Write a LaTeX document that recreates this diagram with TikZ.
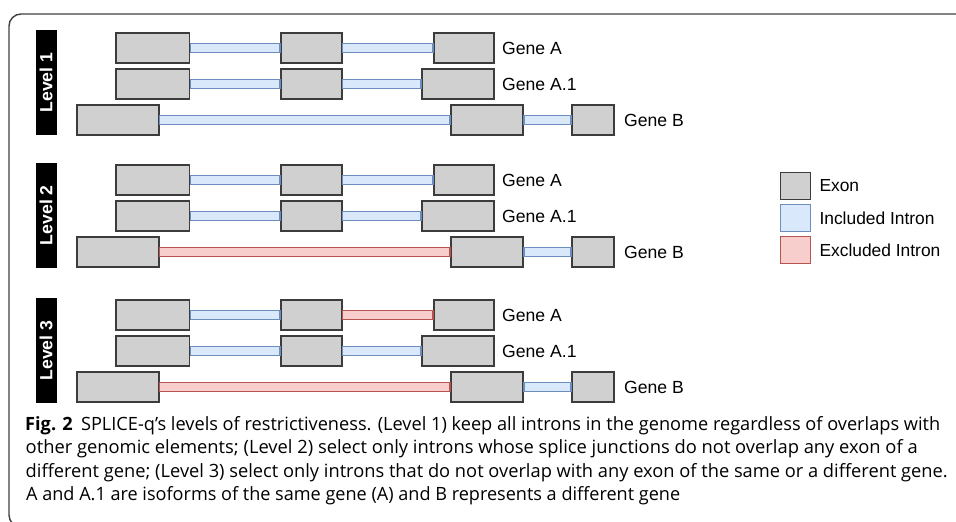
\documentclass[tikz,border=0pt]{standalone}
\usepackage{fontspec}
\usepackage{graphicx}
\setmainfont{Liberation Sans}
\newfontfamily\capfont{Open Sans}
\definecolor{exongray}{HTML}{D0D0D0}
\definecolor{exonline}{HTML}{3C3C3C}
\definecolor{inclfill}{HTML}{DAE8FC}
\definecolor{incline}{HTML}{6C8EBF}
\definecolor{exclfill}{HTML}{F8CECC}
\definecolor{excline}{HTML}{B85450}
\definecolor{framecol}{HTML}{404040}
\tikzset{
  exon/.style={draw=exonline, fill=exongray, line width=1.8pt, inner sep=0pt, minimum height=29.5pt},
  incl/.style={draw=incline, fill=inclfill, line width=1.7pt},
  excl/.style={draw=excline, fill=exclfill, line width=1.7pt},
  genelabel/.style={anchor=west, inner sep=0pt, font=\fontsize{17.6}{20}\selectfont},
  levelbox/.style={fill=black, text=white, rotate=90, minimum width=105pt, minimum height=21pt, inner sep=0pt, font=\fontsize{17.6}{20}\selectfont\bfseries},
  legbox/.style={line width=1.5pt, minimum width=30pt, minimum height=27pt, inner sep=0pt},
  legtext/.style={anchor=west, inner sep=0pt, font=\fontsize{17.4}{20}\selectfont},
  captext/.style={anchor=base west, inner sep=0pt, font=\capfont\fontsize{18.3}{20}\selectfont}
}
\newcommand{\exonbox}[4]{%
  \pgfmathsetmacro{\exw}{#3-#2}\pgfmathsetmacro{\exc}{(#2+#3)/2}%
  \node[exon, minimum width=\exw pt] (#1) at (\exc,#4) {};}
\newcommand{\intron}[3]{%
  \path[#1] ([yshift=4.4pt]#2.east) rectangle ([yshift=-4.4pt]#3.west);}
\begin{document}
\begin{tikzpicture}[x=1pt,y=-1pt]
\useasboundingbox (0,0) rectangle (956,522);
\clip (0,0) rectangle (956,522);
\draw[framecol, line width=1.4pt, rounded corners=12pt] (9,14) rectangle (1000,527);

% Level labels
\node[levelbox] (lv1) at (46.2,82.5) {Level 1};
\node[levelbox] (lv2) at (46.2,215.2) {Level 2};
\node[levelbox] (lv3) at (46.2,350.5) {Level 3};

% ---------- Level 1 ----------
\exonbox{aa1}{116}{189.5}{48}\exonbox{aa2}{281}{341.7}{48}\exonbox{aa3}{434}{494.3}{48}
\intron{incl}{aa1}{aa2}\intron{incl}{aa2}{aa3}
\node[genelabel] (ga1) at (502,48) {Gene A};
\exonbox{ab1}{116}{189.5}{84}\exonbox{ab2}{281}{341.7}{84}\exonbox{ab3}{422}{494.3}{84}
\intron{incl}{ab1}{ab2}\intron{incl}{ab2}{ab3}
\node[genelabel] (gb1) at (502,84) {Gene A.1};
\exonbox{ac1}{76.7}{158.7}{120}\exonbox{ac2}{450.7}{523}{120}\exonbox{ac3}{571.7}{614.3}{120}
\intron{incl}{ac1}{ac2}\intron{incl}{ac2}{ac3}
\node[genelabel] (gc1) at (624,120) {Gene B};

% ---------- Level 2 ----------
\exonbox{ba1}{116}{189.5}{180}\exonbox{ba2}{281}{341.7}{180}\exonbox{ba3}{434}{494.3}{180}
\intron{incl}{ba1}{ba2}\intron{incl}{ba2}{ba3}
\node[genelabel] (ga2) at (502,180) {Gene A};
\exonbox{bb1}{116}{189.5}{216}\exonbox{bb2}{281}{341.7}{216}\exonbox{bb3}{422}{494.3}{216}
\intron{incl}{bb1}{bb2}\intron{incl}{bb2}{bb3}
\node[genelabel] (gb2) at (502,216) {Gene A.1};
\exonbox{bc1}{76.7}{158.7}{252}\exonbox{bc2}{450.7}{523}{252}\exonbox{bc3}{571.7}{614.3}{252}
\intron{excl}{bc1}{bc2}\intron{incl}{bc2}{bc3}
\node[genelabel] (gc2) at (624,252) {Gene B};

% ---------- Level 3 ----------
\exonbox{ca1}{116}{189.5}{315}\exonbox{ca2}{281}{341.7}{315}\exonbox{ca3}{434}{494.3}{315}
\intron{incl}{ca1}{ca2}\intron{excl}{ca2}{ca3}
\node[genelabel] (ga3) at (502,315) {Gene A};
\exonbox{cb1}{116}{189.5}{351}\exonbox{cb2}{281}{341.7}{351}\exonbox{cb3}{422}{494.3}{351}
\intron{incl}{cb1}{cb2}\intron{incl}{cb2}{cb3}
\node[genelabel] (gb3) at (502,351) {Gene A.1};
\exonbox{cc1}{76.7}{158.7}{387}\exonbox{cc2}{450.7}{523}{387}\exonbox{cc3}{571.7}{614.3}{387}
\intron{excl}{cc1}{cc2}\intron{incl}{cc2}{cc3}
\node[genelabel] (gc3) at (624,387) {Gene B};

% Legend
\node[legbox, draw=exonline, fill=exongray] (lg1) at (795.3,186) {};
\node[legbox, draw=incline, fill=inclfill] (lg2) at (795.3,218) {};
\node[legbox, draw=excline, fill=exclfill] (lg3) at (795.3,250) {};
\node[legtext] (lt1) at (819.3,186) {Exon};
\node[legtext] (lt2) at (819.3,218) {Included Intron};
\node[legtext] (lt3) at (819.3,250) {Excluded Intron};

% Caption
\node[captext] (cap1) at (25,430) {\resizebox{915pt}{\height}{\textbf{Fig. 2}\hspace{0.45em}SPLICE-q’s levels of restrictiveness. (Level 1) keep all introns in the genome regardless of overlaps with}};
\node[captext] (cap2) at (25.5,453.5) {\resizebox{892pt}{\height}{other genomic elements; (Level 2) select only introns whose splice junctions do not overlap any exon of a}};
\node[captext] (cap3) at (25.5,477) {\resizebox{922pt}{\height}{different gene; (Level 3) select only introns that do not overlap with any exon of the same or a different gene.}};
\node[captext] (cap4) at (26,500.5) {\resizebox{654pt}{\height}{A and A.1 are isoforms of the same gene (A) and B represents a different gene}};
\end{tikzpicture}
\end{document}
